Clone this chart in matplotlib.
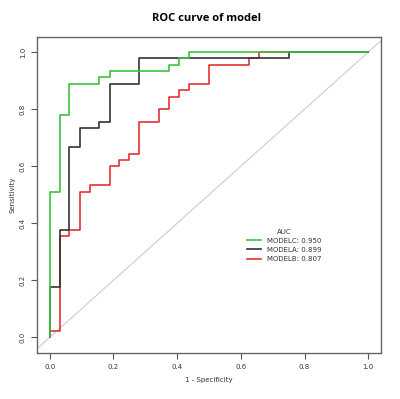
import matplotlib
matplotlib.use("Agg")
import matplotlib.pyplot as plt

# step points of each ROC curve (1 - specificity, sensitivity)
fpr_c = [0.0, 0.0, 0.031, 0.031, 0.062, 0.062, 0.156, 0.156, 0.188, 0.188,
         0.375, 0.375, 0.406, 0.406, 0.438, 0.438, 1.0]
tpr_c = [0.0, 0.511, 0.511, 0.778, 0.778, 0.889, 0.889, 0.911, 0.911, 0.933,
         0.933, 0.956, 0.956, 0.978, 0.978, 1.0, 1.0]

fpr_a = [0.0, 0.0, 0.031, 0.031, 0.062, 0.062, 0.094, 0.094, 0.156, 0.156,
         0.188, 0.188, 0.281, 0.281, 0.75, 0.75, 1.0]
tpr_a = [0.0, 0.178, 0.178, 0.378, 0.378, 0.667, 0.667, 0.733, 0.733, 0.756,
         0.756, 0.889, 0.889, 0.978, 0.978, 1.0, 1.0]

fpr_b = [0.0, 0.0, 0.031, 0.031, 0.062, 0.062, 0.094, 0.094, 0.125, 0.125,
         0.188, 0.188, 0.219, 0.219, 0.25, 0.25, 0.281, 0.281, 0.344, 0.344,
         0.375, 0.375, 0.406, 0.406, 0.438, 0.438, 0.5, 0.5, 0.625, 0.625,
         0.656, 0.656, 1.0]
tpr_b = [0.0, 0.022, 0.022, 0.356, 0.356, 0.378, 0.378, 0.511, 0.511, 0.533,
         0.533, 0.6, 0.6, 0.622, 0.622, 0.644, 0.644, 0.756, 0.756, 0.8,
         0.8, 0.844, 0.844, 0.867, 0.867, 0.889, 0.889, 0.956, 0.956, 0.978,
         0.978, 1.0, 1.0]

labels = ["MODELC: 0.950", "MODELA: 0.899", "MODELB: 0.807"]
colors = ["#3cc43c", "#333333", "#e23232"]
ticks = [0.0, 0.2, 0.4, 0.6, 0.8, 1.0]

fig = plt.figure(figsize=(4, 3.99), dpi=100)
ax = fig.add_axes([0.0925, 0.116, 0.86, 0.792])

ax.axline((0, 0), (1, 1), color="#cccccc", lw=0.8, zorder=1)
ax.plot(fpr_c, tpr_c, color=colors[0], lw=1.2, label=labels[0], zorder=4)
ax.plot(fpr_a, tpr_a, color=colors[1], lw=1.2, label=labels[1], zorder=3)
ax.plot(fpr_b, tpr_b, color=colors[2], lw=1.2, label=labels[2], zorder=2)

ax.set_xlim(-0.04, 1.04)
ax.set_ylim(-0.054, 1.054)
ax.set_xticks(ticks)
ax.set_yticks(ticks)
ax.set_xticklabels([f"{t:.1f}" for t in ticks], fontsize=5, color="#333333")
ax.set_yticklabels([f"{t:.1f}" for t in ticks], fontsize=5, color="#333333",
                   rotation=90, va="center")
ax.tick_params(length=4, width=0.8, color="#555555", pad=4)
for s in ax.spines.values():
    s.set_color("#666666")
    s.set_linewidth(1.0)

ax.set_xlabel("1 - Specificity", fontsize=5, color="#333333", labelpad=5)
ax.set_ylabel("Sensitivity", fontsize=5, color="#333333", labelpad=3)
fig.suptitle("ROC curve of model", fontsize=8, fontweight="bold",
             family="Open Sans", x=0.515, y=0.968)

leg = ax.legend(title="AUC", loc="center", bbox_to_anchor=(0.72, 0.34),
                frameon=False, fontsize=5, title_fontsize=5,
                handlelength=2.0, handletextpad=0.9, labelspacing=0.45)
for t in leg.get_texts():
    t.set_color("#333333")
leg.get_title().set_color("#333333")

fig.savefig("out.png", dpi=100)
